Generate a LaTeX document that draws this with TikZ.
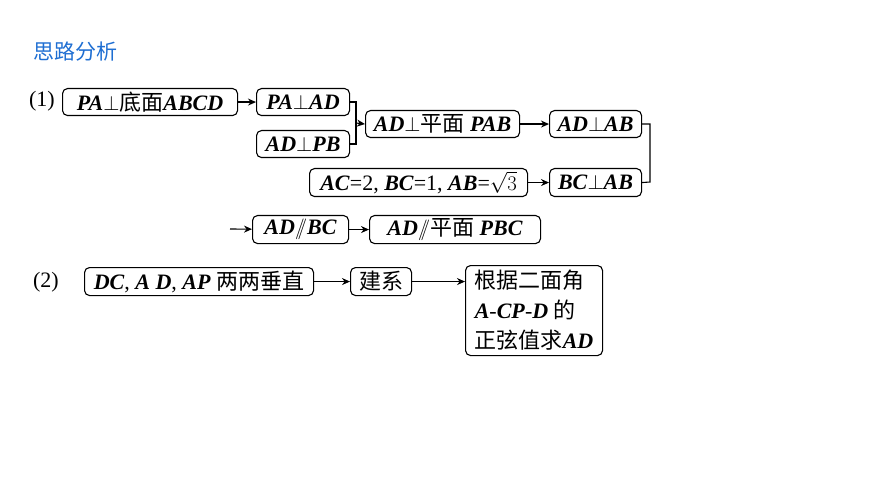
\documentclass[tikz,border=0pt]{standalone}
\usepackage{fontspec}
\setmainfont{Liberation Serif}
\newfontfamily\cjk{Noto Sans CJK SC}
\usetikzlibrary{arrows.meta}
\definecolor{ttl}{RGB}{30,110,210}
\newcommand{\mi}[1]{\textit{\textbf{#1}}}
\newcommand{\zh}[1]{{\cjk #1}}
\begin{document}
\begin{tikzpicture}[x=1pt,y=-1pt,
  bx/.style={draw,line width=1.1pt,rounded corners=5pt,inner sep=0pt,font=\fontsize{22}{30}\selectfont,anchor=north west},
  ar/.style={-{Stealth[length=8pt,width=7pt]},line width=1.1pt},
  ln/.style={line width=1.1pt}]
\useasboundingbox (0,0) rectangle (870,489);
\node[anchor=west,text=ttl,font=\fontsize{21}{24}\cjk] (t) at (30,52) {思路分析};
\node[anchor=center,font=\fontsize{22}{26}\selectfont] (l1) at (42,101) {(1)};
\node[anchor=center,font=\fontsize{22}{26}\selectfont] (l2) at (46,282) {(2)};
\node[bx,minimum width=175pt,minimum height=27pt] (b1) at (62,88) {\mi{PA}$\perp$\zh{底面}\mi{ABCD}};
\node[bx,minimum width=93pt,minimum height=27pt] (b2) at (256,88) {\mi{PA}$\perp$\mi{AD}};
\node[bx,minimum width=93pt,minimum height=27pt] (b3) at (256,130) {\mi{AD}$\perp$\mi{PB}};
\node[bx,minimum width=154pt,minimum height=27pt] (b4) at (365,110) {\mi{AD}$\perp$\zh{平面} \mi{PAB}};
\node[bx,minimum width=92pt,minimum height=27pt] (b5) at (549,110) {\mi{AD}$\perp$\mi{AB}};
\node[bx,minimum width=218pt,minimum height=28pt] (b6) at (309,168) {\mi{AC}=2, \mi{BC}=1, \mi{AB}=$\sqrt{3}$};
\node[bx,minimum width=92pt,minimum height=28pt] (b7) at (549,168) {\mi{BC}$\perp$\mi{AB}};
\node[bx,minimum width=96pt,minimum height=28pt] (b8) at (252,215) {\mi{AD}$/\!\!/$\mi{BC}};
\node[bx,minimum width=171pt,minimum height=28pt] (b9) at (369,215) {\mi{AD}$/\!\!/$\zh{平面} \mi{PBC}};
\node[bx,minimum width=229pt,minimum height=28pt] (b10) at (84,267) {\mi{DC}, \mi{A D}, \mi{AP} \zh{两两垂直}};
\node[bx,minimum width=61pt,minimum height=28pt] (b11) at (350,267) {\zh{建系}};
\node[bx,minimum width=137pt,minimum height=90pt,align=left] (b12) at (465,265) {\zh{根据二面角}\\\mi{A}-\mi{CP}-\mi{D} \zh{的}\\\zh{正弦值求}\mi{AD}};
\draw[ar] (b1) -- (b2);
\draw[ln] (b2.east) -| (356,123) |- (b3.east);
\draw[ar] (356,123) -- (b4.west);
\draw[ar] (b4) -- (b5);
\draw[ar] (b6) -- (b7);
\draw[ln] (b5.east) -| (650,182) -- (b7.east);
\coordinate (s) at (230,229);
\draw[ar] (s) -- (b8);
\draw[ar] (b8) -- (b9);
\draw[ar] (b10) -- (b11);
\draw[ar] (b11.east) -- (b12.west|-b11.east);
\end{tikzpicture}
\end{document}
